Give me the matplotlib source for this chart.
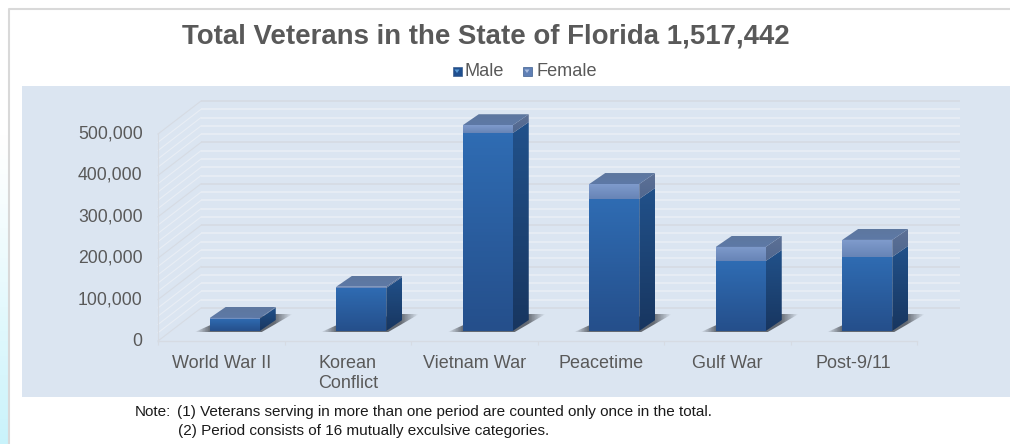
import numpy as np
import matplotlib
matplotlib.use("Agg")
from matplotlib import pyplot as plt
from matplotlib.patches import Polygon, Rectangle
from matplotlib.colors import LinearSegmentedColormap, to_rgb
from matplotlib.transforms import ScaledTranslation

plt.rcParams['font.family'] = ['Liberation Sans', 'DejaVu Sans']

# Values
categories = ['World War II', 'Korean\nConflict', 'Vietnam War', 'Peacetime', 'Gulf War', 'Post-9/11']
male = [30000, 104000, 478000, 319000, 169000, 179000]
female = [1500, 3000, 19000, 36000, 34000, 41000]
y_ticks = [0, 100000, 200000, 300000, 400000, 500000]

W, H = 1010, 444
TEXT = '#595959'
PANEL = '#dbe5f1'


# Pixel box of the picture -> figure fractions
def box(left, top, right, bottom):
    return [left / W, 1 - bottom / H, (right - left) / W, (bottom - top) / H]


fig = plt.figure(figsize=(W / 100, H / 100), dpi=100, facecolor='white')

# Backdrop: pale strip at the lower left, frame and blue panel
bg = fig.add_axes([0, 0, 1, 1])
bg.axis('off')
strip = np.zeros((64, 2, 4))
strip[:, :, :3] = to_rgb('#c9f3fb')
strip[:, :, 3] = (np.linspace(0, 1, 64) ** 1.2).reshape(-1, 1)
bg.imshow(strip, extent=[0, 8, H, 130], aspect='auto', zorder=0)
bg.set_xlim(0, W)
bg.set_ylim(H, 0)
bg.plot([9, 9, W], [H, 9.5, 9.5], color='#d9d9d9', lw=1.5)
bg.add_patch(Rectangle((22, 86), W - 22, 311, color=PANEL, lw=0))

# Front plane of the chart: the 3D walls and bars are offset from it
ax = fig.add_axes(box(158, 134, 917, 341), facecolor='none')
ax.set_xlim(-0.5, 5.5)
ax.set_ylim(0, 500000)
PX = 6 / 759          # one pixel in category units
PY = 500000 / 207     # one pixel in value units
WALL_DX, WALL_DY = 43 * PX, 33 * PY
BAR_DX, BAR_DY = 13.5 * PX, 10 * PY
DEPTH_X, DEPTH_Y = 16 * PX, 11 * PY
BAR_W = 50 * PX


def clip_to(im, points):
    clip = Polygon(points, closed=True, transform=ax.transData, fc='none', ec='none')
    ax.add_patch(clip)
    clip.set_clip_on(False)
    im.set_clip_on(True)
    # bars rise above the front plane, so only the polygon may cut them
    im.set_clip_box(fig.bbox)
    im.set_clip_path(clip)


def gradient_fill(points, top_color, bottom_color, zorder):
    pts = np.array(points)
    cmap = LinearSegmentedColormap.from_list('g', [top_color, bottom_color])
    im = ax.imshow(np.linspace(0, 1, 64).reshape(-1, 1), cmap=cmap, aspect='auto', zorder=zorder,
                   extent=[pts[:, 0].min(), pts[:, 0].max(), pts[:, 1].min(), pts[:, 1].max()],
                   origin='upper')
    clip_to(im, points)


def draw_shadow(x0, x1, base):
    pts = [(x0 - 16 * PX, base - 1.5 * PY), (x0 + 3 * PX, base + 7 * PY), (x1 + 16 * PX, base + 17 * PY),
           (x1 + 33 * PX, base + 17 * PY), (x1 + 2 * PX, base - 1 * PY)]
    xs = np.array([p[0] for p in pts])
    ys = np.array([p[1] for p in pts])
    rgba = np.zeros((2, 64, 4))
    rgba[:, :, :3] = to_rgb('#4f545c')
    t = np.linspace(0, 1, 64)
    rgba[:, :, 3] = np.clip(np.minimum(t / 0.16, (1 - t) / 0.18), 0, 1) * 0.85
    im = ax.imshow(rgba, aspect='auto', zorder=3, extent=[xs.min(), xs.max(), ys.min(), ys.max()])
    clip_to(im, pts)


def draw_bar(xc, m, f):
    x0 = xc + BAR_DX - BAR_W / 2
    x1 = xc + BAR_DX + BAR_W / 2
    base = BAR_DY
    split = base + m
    top = split + f
    draw_shadow(x0, x1, base)
    # front faces
    gradient_fill([(x0, base), (x1, base), (x1, split), (x0, split)], '#2f6cb3', '#254f8b', 5)
    gradient_fill([(x0, split), (x1, split), (x1, top), (x0, top)], '#7f9bcc', '#6784b6', 5)
    # side faces
    dx, dy = DEPTH_X, DEPTH_Y
    gradient_fill([(x1, base), (x1 + dx, base + dy), (x1 + dx, split + dy), (x1, split)], '#21518a', '#183660', 5)
    gradient_fill([(x1, split), (x1 + dx, split + dy), (x1 + dx, top + dy), (x1, top)], '#5d7196', '#50678f', 5)
    # top face
    gradient_fill([(x0, top), (x1, top), (x1 + dx, top + dy), (x0 + dx, top + dy)], '#5e779f', '#5d79a6', 5)


# Walls: side wall plus back wall, major lines every 100k, pale ones between
for v in np.arange(0, 500001, 20000):
    major = v % 100000 == 0
    color = '#d6dbe3' if major else '#e9eef5'
    ax.plot([-0.5 + WALL_DX, 5.5 + WALL_DX], [v + WALL_DY, v + WALL_DY], color=color, lw=1.2, zorder=1 + major,
            clip_on=False, solid_capstyle='butt')
    ax.plot([-0.5, -0.5 + WALL_DX], [v, v + WALL_DY], color=color, lw=0.8, zorder=1 + major, clip_on=False)
ax.plot([-0.5, -0.5], [0, 500000], color='#d6dbe3', lw=0.8, zorder=2, clip_on=False)

for i in range(len(categories)):
    draw_bar(i, male[i], female[i])

ax.set_xlim(-0.5, 5.5)
ax.set_ylim(0, 500000)

for name in ['top', 'right', 'left']:
    ax.spines[name].set_visible(False)
ax.spines['bottom'].set_color('#d6dbe3')
ax.spines['bottom'].set_linewidth(1.0)

ax.set_yticks(y_ticks)
ax.set_yticklabels([f'{v:,}' for v in y_ticks], fontsize=12.7, color=TEXT)
ax.set_xticks(range(len(categories)))
ax.set_xticklabels(categories, fontsize=13.0, color=TEXT, linespacing=1.25)
ax.set_xticks(np.arange(-0.5, 6), minor=True)
ax.tick_params(axis='y', length=0, pad=11)
ax.tick_params(axis='x', which='major', length=0, pad=10)
ax.tick_params(axis='x', which='minor', length=3, color='#d6dbe3', width=0.8)
for label in ax.get_yticklabels():
    label.set_transform(label.get_transform() + ScaledTranslation(0, 2 / 100, fig.dpi_scale_trans))

# Title, legend and notes
bg.text(486, 37, 'Total Veterans in the State of Florida 1,517,442', fontsize=19.9, fontweight='bold',
        color=TEXT, ha='center', va='center')
for sx, tx, label, c1, c2 in [(457, 464, 'Male', '#5b9bd5', '#1f4f8f'), (527, 537, 'Female', '#a9bde0', '#5f7fb5')]:
    bg.add_patch(Rectangle((sx - 4.5, 67.5), 9, 9, fc=c2, ec='#3d5f8f', lw=0.5, zorder=4))
    bg.add_patch(Polygon([(sx - 2.5, 69.5), (sx + 2.5, 69.5), (sx, 73)], fc=c1, ec='none', zorder=5))
    bg.text(tx, 72, label, fontsize=13.1, color=TEXT, ha='left', va='center')
bg.text(135, 412, 'Note:', fontsize=11, color='#1a1a1a', ha='left', va='center')
bg.text(177, 412, '(1) Veterans serving in more than one period are counted only once in the total.',
        fontsize=11, color='#1a1a1a', ha='left', va='center')
bg.text(178, 431, '(2) Period consists of 16 mutually exculsive categories.',
        fontsize=11, color='#1a1a1a', ha='left', va='center')

fig.savefig('out.png', dpi=100)
